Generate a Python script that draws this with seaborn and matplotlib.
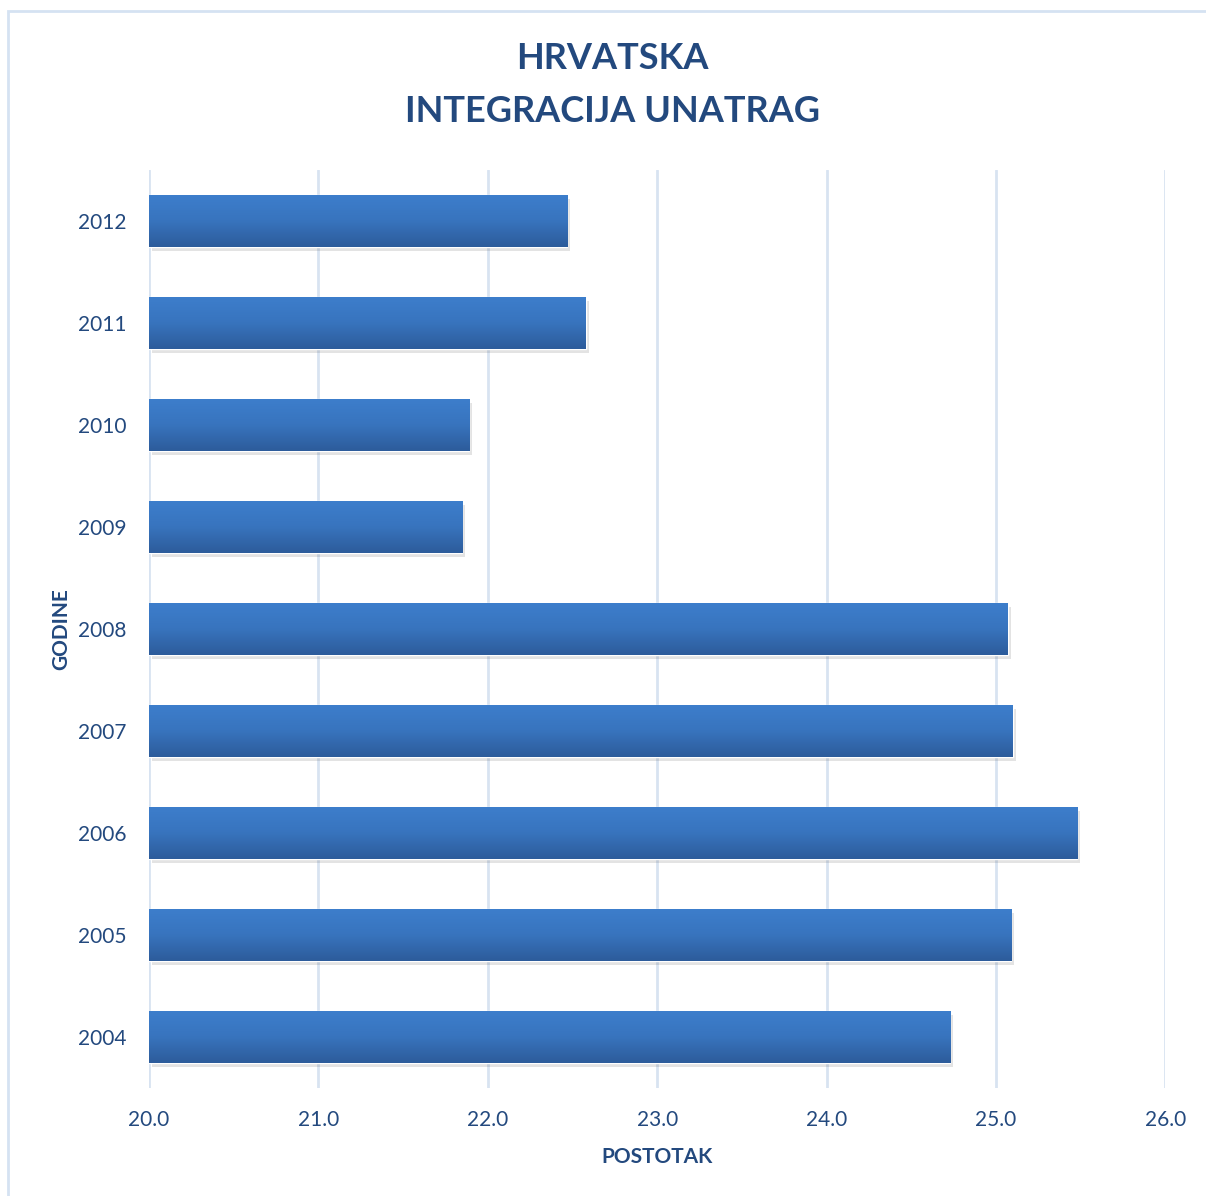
import matplotlib.pyplot as plt
import matplotlib.patheffects as pe
from matplotlib.patches import Rectangle
from matplotlib.colors import LinearSegmentedColormap
import numpy as np
import pandas as pd
import seaborn as sns

years = ['2012', '2011', '2010', '2009', '2008', '2007', '2006', '2005', '2004']
values = [22.47, 22.58, 21.89, 21.85, 25.07, 25.10, 25.48, 25.09, 24.73]
x_ticks = [20.0, 21.0, 22.0, 23.0, 24.0, 25.0, 26.0]
x_min = 20.0

TEXT = '#23497E'
GRID = '#D8E3F1'

sns.set_theme(style='white')
plt.rcParams['font.family'] = ['Lato', 'DejaVu Sans']

df = pd.DataFrame({'godina': years, 'postotak': values})

fig = plt.figure(figsize=(12.06, 11.96), dpi=100)
ax = fig.add_axes([0.1236, 0.0903, 0.8426, 0.7676])

sns.barplot(data=df, x='postotak', y='godina', order=years, orient='h',
            color='#3571B8', width=0.51, ax=ax)

ax.set_xlim(x_min, 26)
xlim = ax.get_xlim()
ylim = ax.get_ylim()

# bars start at the axis minimum (Excel style), vertical gradient + soft shadow
cmap = LinearSegmentedColormap.from_list('bar', ['#3D7ECC', '#3874BE', '#2D5C9B'])
grad = np.linspace(0, 1, 64).reshape(-1, 1)
for p in list(ax.patches):
    end = p.get_x() + p.get_width()
    p.set_x(x_min)
    p.set_width(end - x_min)
    y0, h = p.get_y(), p.get_height()
    p.set_path_effects([pe.SimplePatchShadow(offset=(2, -3), alpha=0.15, shadow_rgbFace='#444444'),
                        pe.Normal()])
    im = ax.imshow(grad, cmap=cmap, aspect='auto', origin='upper',
                   extent=[x_min, end, y0 + h, y0], zorder=3, interpolation='bilinear')
    im.set_clip_path(p)

ax.set_xlim(xlim)
ax.set_ylim(ylim)

ax.set_xticks(x_ticks)
ax.set_xticklabels([f'{v:.1f}' for v in x_ticks])
ax.grid(axis='x', color=GRID, linewidth=2)
ax.set_axisbelow(True)
sns.despine(ax=ax, left=True, bottom=True)
ax.tick_params(axis='both', length=0, labelsize=15, labelcolor=TEXT)
ax.tick_params(axis='x', pad=16)
ax.tick_params(axis='y', pad=16)

ax.set_xlabel('POSTOTAK', fontsize=15, fontweight='bold', color=TEXT, labelpad=12)
ax.set_ylabel('GODINE', fontsize=15, fontweight='bold', color=TEXT, labelpad=5)

fig.text(0.508, 0.951, 'HRVATSKA', ha='center', va='center',
         fontsize=26, fontweight='bold', color=TEXT)
fig.text(0.508, 0.907, 'INTEGRACIJA UNATRAG', ha='center', va='center',
         fontsize=26, fontweight='bold', color=TEXT)

# chart frame
fig.patches.append(Rectangle((8 / 1206, -0.01), 1.02, 1 - 11 / 1196 + 0.01,
                             transform=fig.transFigure, fill=False,
                             edgecolor='#D5E2F2', linewidth=2))

fig.savefig('out.png', dpi=100, facecolor='white')
